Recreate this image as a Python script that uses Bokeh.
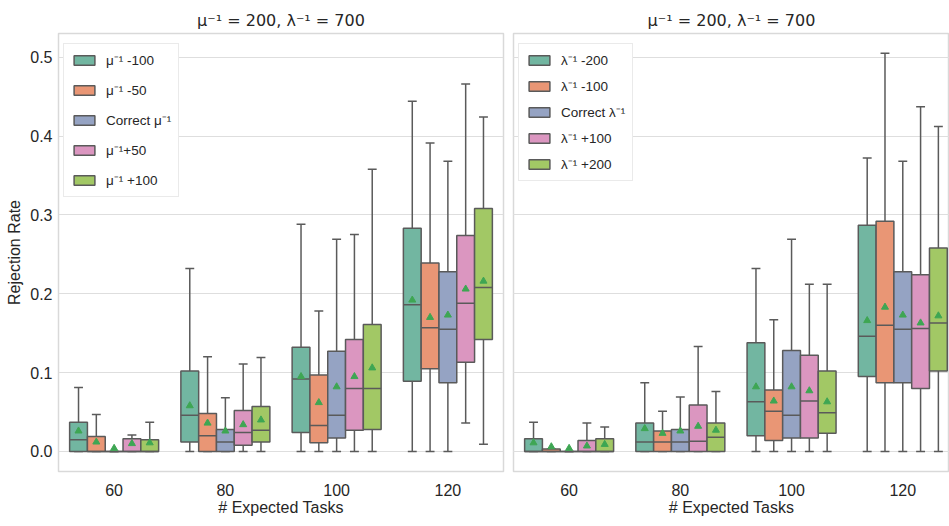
import colorsys
from bokeh.plotting import figure
from bokeh.layouts import row
from bokeh.models import (Range1d, FixedTicker, Legend, LegendItem, Grid,
                          ColumnDataSource)
from bokeh.embed import file_html
from bokeh.resources import INLINE

# ---------------- data ----------------
categories = ["60", "80", "100", "120"]
palette = ["#66c2a5", "#fc8d62", "#8da0cb", "#e78ac3", "#a6d854"]

left_title = "μ⁻¹ = 200, λ⁻¹ = 700"
right_title = "μ⁻¹ = 200, λ⁻¹ = 700"
left_labels = ["μ⁻¹ -100", "μ⁻¹ -50", "Correct μ⁻¹", "μ⁻¹+50", "μ⁻¹ +100"]
right_labels = ["λ⁻¹ -200", "λ⁻¹ -100", "Correct λ⁻¹", "λ⁻¹ +100", "λ⁻¹ +200"]

# left panel (one list per hue, values for 60, 80, 100, 120)
L_q1 = [[0, 0.012, 0.024, 0.089],
        [0, 0.000, 0.011, 0.105],
        [0, 0.000, 0.017, 0.087],
        [0, 0.008, 0.027, 0.113],
        [0, 0.012, 0.028, 0.142]]
L_med = [[0.015, 0.046, 0.092, 0.186],
         [0.000, 0.020, 0.033, 0.157],
         [0.000, 0.012, 0.046, 0.155],
         [0.000, 0.024, 0.080, 0.188],
         [0.000, 0.027, 0.080, 0.208]]
L_q3 = [[0.037, 0.102, 0.132, 0.283],
        [0.019, 0.048, 0.097, 0.239],
        [0.000, 0.028, 0.127, 0.228],
        [0.016, 0.052, 0.142, 0.274],
        [0.015, 0.057, 0.161, 0.308]]
L_lo = [[0, 0, 0, 0],
        [0, 0, 0, 0],
        [0, 0, 0, 0],
        [0, 0, 0, 0.036],
        [0, 0, 0, 0.009]]
L_hi = [[0.081, 0.232, 0.288, 0.444],
        [0.047, 0.120, 0.178, 0.391],
        [0.000, 0.068, 0.269, 0.368],
        [0.021, 0.111, 0.275, 0.466],
        [0.037, 0.119, 0.358, 0.424]]
L_mean = [[0.026, 0.058, 0.095, 0.192],
          [0.012, 0.036, 0.062, 0.170],
          [0.004, 0.026, 0.082, 0.173],
          [0.010, 0.034, 0.095, 0.206],
          [0.011, 0.040, 0.106, 0.216]]

# right panel
R_q1 = [[0, 0, 0.020, 0.095],
        [0, 0, 0.014, 0.087],
        [0, 0, 0.017, 0.087],
        [0, 0, 0.017, 0.080],
        [0, 0, 0.023, 0.102]]
R_med = [[0.000, 0.012, 0.063, 0.146],
         [0.000, 0.012, 0.051, 0.160],
         [0.000, 0.012, 0.046, 0.155],
         [0.000, 0.013, 0.064, 0.156],
         [0.000, 0.018, 0.049, 0.163]]
R_q3 = [[0.016, 0.036, 0.138, 0.287],
        [0.003, 0.026, 0.078, 0.292],
        [0.000, 0.028, 0.128, 0.228],
        [0.014, 0.059, 0.122, 0.224],
        [0.016, 0.036, 0.102, 0.258]]
R_lo = [[0, 0, 0, 0],
        [0, 0, 0, 0],
        [0, 0, 0, 0],
        [0, 0, 0, 0],
        [0, 0, 0, 0]]
R_hi = [[0.037, 0.087, 0.232, 0.372],
        [0.003, 0.051, 0.167, 0.505],
        [0.000, 0.069, 0.269, 0.368],
        [0.036, 0.133, 0.212, 0.437],
        [0.031, 0.076, 0.212, 0.412]]
R_mean = [[0.011, 0.029, 0.082, 0.166],
          [0.006, 0.023, 0.064, 0.183],
          [0.004, 0.026, 0.082, 0.173],
          [0.007, 0.032, 0.077, 0.163],
          [0.009, 0.027, 0.063, 0.172]]

y_ticks = [0.0, 0.1, 0.2, 0.3, 0.4, 0.5]

# ---------------- style ----------------
TEXT = "#262626"
LINE = "#5a5a5a"
GRID = "#dedede"
MEAN = "#3ea653"
FONT = "Liberation Sans"


def desat(hexcol, prop=0.75):
    r, g, b = (int(hexcol[i:i + 2], 16) / 255 for i in (1, 3, 5))
    h, l, s = colorsys.rgb_to_hls(r, g, b)
    r, g, b = colorsys.hls_to_rgb(h, l, s * prop)
    return "#%02x%02x%02x" % (round(r * 255), round(g * 255), round(b * 255))


colors = [desat(c) for c in palette]
yr = Range1d(-0.0254, 0.530)
W = 0.16


def make_panel(p, labels, q1, med, q3, lo, hi, mean, spacing, loc):
    items = []
    for h in range(5):
        xs = [c + (h - 2) * W for c in range(len(categories))]
        src = ColumnDataSource(dict(
            x=xs, q1=q1[h], med=med[h], q3=q3[h], lo=lo[h], hi=hi[h], mean=mean[h],
            bl=[x - W / 2 for x in xs], br=[x + W / 2 for x in xs],
            cl=[x - W / 4 for x in xs], cr=[x + W / 4 for x in xs]))
        p.segment(x0="x", y0="q3", x1="x", y1="hi", source=src,
                  line_color=LINE, line_width=1.5)
        p.segment(x0="x", y0="q1", x1="x", y1="lo", source=src,
                  line_color=LINE, line_width=1.5)
        p.segment(x0="cl", y0="hi", x1="cr", y1="hi", source=src,
                  line_color=LINE, line_width=1.5)
        p.segment(x0="cl", y0="lo", x1="cr", y1="lo", source=src,
                  line_color=LINE, line_width=1.5)
        r = p.vbar(x="x", width=W, top="q3", bottom="q1", source=src,
                   fill_color=colors[h], line_color=LINE, line_width=1.5)
        p.segment(x0="bl", y0="med", x1="br", y1="med", source=src,
                  line_color=LINE, line_width=1.5)
        p.scatter(x="x", y="mean", source=src, marker="triangle", size=7,
                  fill_color=MEAN, line_color=MEAN)
        items.append(LegendItem(label=labels[h], renderers=[r]))
    leg = Legend(items=items, location=loc)
    leg.label_text_font = FONT
    leg.label_text_font_size = "13.5px"
    leg.label_text_color = TEXT
    leg.glyph_width = 26
    leg.glyph_height = 12
    leg.label_height = 12
    leg.spacing = spacing
    leg.padding = 7
    leg.margin = 0
    leg.label_standoff = 9
    leg.border_line_color = "#d5d5d5"
    leg.border_line_width = 1
    leg.background_fill_alpha = 1.0
    p.add_layout(leg)


def style(p, title_offset=0):
    p.title.text_font = "DejaVu Sans"
    p.title.text_font_size = "16px"
    p.title.text_font_style = "normal"
    p.title.text_color = TEXT
    p.title.align = "center"
    p.title.offset = title_offset
    p.title.standoff = 7
    p.outline_line_color = "#d9d9d9"
    p.outline_line_width = 1.5
    p.xgrid.visible = False
    p.xaxis.ticker = FixedTicker(ticks=[0, 1, 2, 3])
    p.xaxis.major_label_overrides = {i: c for i, c in enumerate(categories)}
    p.xaxis.axis_line_color = None
    p.xaxis.major_tick_line_color = None
    p.xaxis.minor_tick_line_color = None
    p.xaxis.major_tick_out = 0
    p.xaxis.major_tick_in = 0
    p.xaxis.minor_tick_out = 0
    p.xaxis.major_label_standoff = 12
    p.xaxis.major_label_text_font = FONT
    p.xaxis.major_label_text_font_size = "16px"
    p.xaxis.major_label_text_color = TEXT
    p.xaxis.axis_label = "# Expected Tasks"
    p.xaxis.axis_label_text_font = FONT
    p.xaxis.axis_label_text_font_size = "16px"
    p.xaxis.axis_label_text_font_style = "normal"
    p.xaxis.axis_label_text_color = TEXT
    p.xaxis.axis_label_standoff = 0
    p.background_fill_color = "white"
    p.border_fill_color = "white"


p1 = figure(width=508, height=526, x_range=Range1d(-0.5, 3.5), y_range=yr,
            title=left_title, output_backend="svg", toolbar_location=None,
            min_border_left=58, min_border_right=5, min_border_top=33,
            min_border_bottom=55)
style(p1)
p1.yaxis.ticker = FixedTicker(ticks=y_ticks)
p1.yaxis.major_label_overrides = {t: "%.1f" % t for t in y_ticks}
p1.yaxis.axis_line_color = None
p1.yaxis.major_tick_line_color = None
p1.yaxis.minor_tick_line_color = None
p1.yaxis.major_tick_out = 0
p1.yaxis.major_tick_in = 0
p1.yaxis.minor_tick_out = 0
p1.yaxis.major_label_standoff = 6
p1.yaxis.major_label_text_font = FONT
p1.yaxis.major_label_text_font_size = "16px"
p1.yaxis.major_label_text_color = TEXT
p1.yaxis.axis_label = "Rejection Rate"
p1.yaxis.axis_label_text_font = FONT
p1.yaxis.axis_label_text_font_size = "16px"
p1.yaxis.axis_label_text_font_style = "normal"
p1.yaxis.axis_label_text_color = TEXT
p1.yaxis.axis_label_standoff = 4
p1.ygrid.grid_line_color = GRID
p1.ygrid.grid_line_width = 1.2
make_panel(p1, left_labels, L_q1, L_med, L_q3, L_lo, L_hi, L_mean, 12, (5, 274))

p2 = figure(width=441, height=526, x_range=Range1d(-0.5, 3.42), y_range=yr,
            title=right_title, output_backend="svg", toolbar_location=None,
            y_axis_location=None,
            min_border_left=5, min_border_right=0, min_border_top=33,
            min_border_bottom=55)
style(p2, title_offset=4)
p2.add_layout(Grid(dimension=1, ticker=FixedTicker(ticks=y_ticks),
                   grid_line_color=GRID, grid_line_width=1.2))
make_panel(p2, right_labels, R_q1, R_med, R_q3, R_lo, R_hi, R_mean, 8, (5, 290))

layout = row(p1, p2)
open("out.html", "w").write(file_html(layout, INLINE))
